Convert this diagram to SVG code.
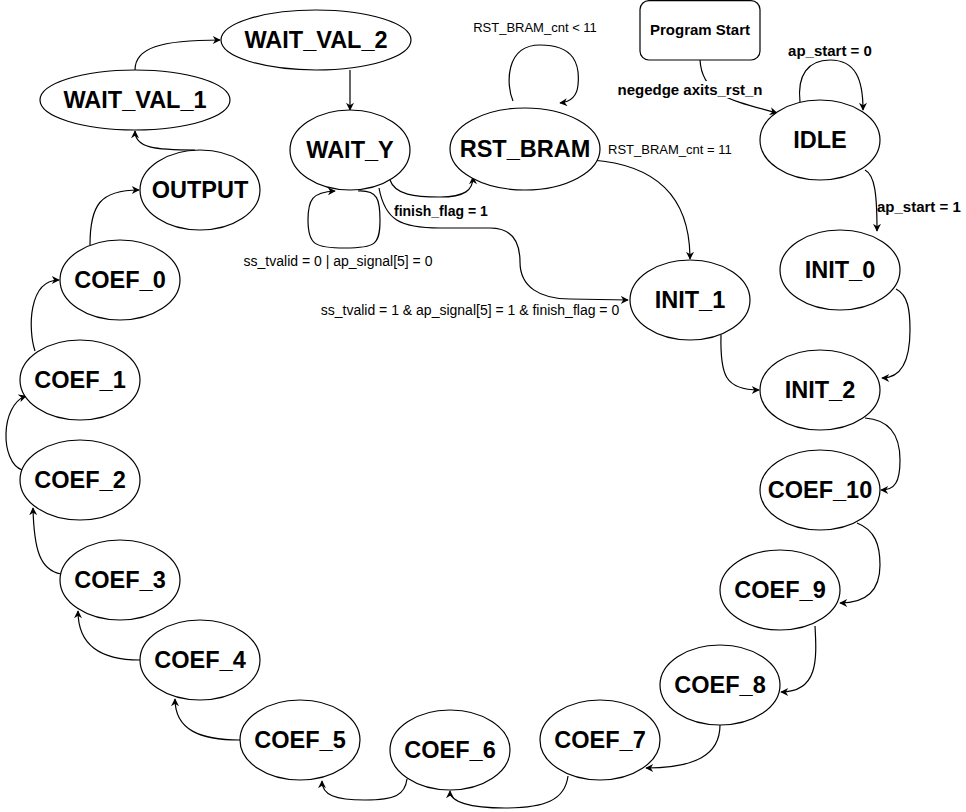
<svg xmlns="http://www.w3.org/2000/svg" width="966" height="812" viewBox="0 0 966 812">
<defs>
<marker id="arr" viewBox="0 0 10 10" refX="9" refY="5" markerWidth="9" markerHeight="8" markerUnits="userSpaceOnUse" orient="auto">
<path d="M0,0 L10,5 L0,10 L3,5 z" fill="#000"/>
</marker>
<style>
.n ellipse, .n rect { fill:#fff; stroke:#000; stroke-width:1.2; }
.n text { font-family:"Liberation Sans", Arial, sans-serif; font-weight:bold; font-size:23.5px; text-anchor:middle; fill:#000; }
.e path { fill:none; stroke:#000; stroke-width:1.2; marker-end:url(#arr); }
.l { font-family:"Liberation Sans", Arial, sans-serif; font-size:14px; fill:#000; }
.b { font-weight:bold; font-size:15px; }
.s { font-size:13px; }
</style>
</defs>
<rect width="966" height="812" fill="#fff"/>
<g id="connectors" class="e">
<path d="M135,70 C135,48 160,40 220,40"/>
<path d="M350,70 L350,110"/>
<path d="M195,150 C155,150 135,148 135,131"/>
<path d="M90,245 C90,205 100,190 139,190"/>
<path d="M35,351 C28,330 28,280 59,280"/>
<path d="M22,470 C0,462 0,405 26,396"/>
<path d="M61,574 C40,570 34,550 33,508"/>
<path d="M140,660 C100,660 78,645 78,611"/>
<path d="M240,740 C200,740 175,730 175,699"/>
<path d="M407,779 C405,795 395,800 365,800 C335,800 322,795 322,781"/>
<path d="M568,776 C565,800 545,808 505,808 C470,808 450,802 450,791"/>
<path d="M720,725 C720,755 695,768 646,768"/>
<path d="M815,626 C817,660 818,692 781,692"/>
<path d="M857,523 C875,530 880,545 880,565 C880,592 865,603 840,603"/>
<path d="M865,418 C893,420 900,440 900,460 C900,482 895,490 881,490"/>
<path d="M896,289 C908,295 910,310 910,330 C910,362 900,378 882,378"/>
<path d="M721,335 C720,375 725,390 759,390"/>
<path d="M865,170 C875,175 877,195 877,231"/>
<path d="M800,102 C797,75 808,60 830,60 C856,60 863,80 863,110"/>
<path d="M700,60 C702,95 730,100 777,113"/>
<path d="M513,101 C506,85 505,45 540,45 C575,45 580,65 578,85 C577,96 570,102 560,103"/>
<path d="M592,160 C660,165 690,200 690,259"/>
<path d="M390,180 C395,195 415,197 440,197 C465,197 473,190 473,177"/>
<path d="M358,191 C378,190 380,200 380,220 C380,245 375,248 345,248 C315,248 308,245 308,220 C308,200 312,192 335,191"/>
<path d="M379,188 C385,220 400,228 440,228 L490,228 C515,228 520,245 520,262 C520,287 540,299 570,299 L628,300"/>
</g>
<g id="labels">
<text class="l s" x="535" y="32" text-anchor="middle">RST_BRAM_cnt &lt; 11</text>
<text class="l s" x="608" y="154">RST_BRAM_cnt = 11</text>
<text class="l b" x="830" y="56" text-anchor="middle">ap_start = 0</text>
<rect x="616" y="81" width="150" height="17" fill="#fff"/>
<text class="l b" x="690" y="95" text-anchor="middle">negedge axits_rst_n</text>
<text class="l b" x="877" y="212">ap_start = 1</text>
<text class="l b" x="394" y="216" style="font-size:14px">finish_flag = 1</text>
<text class="l" x="338" y="266" text-anchor="middle">ss_tvalid = 0 | ap_signal[5] = 0</text>
<text class="l" x="470" y="315" text-anchor="middle">ss_tvalid = 1 &amp; ap_signal[5] = 1 &amp; finish_flag = 0</text>
</g>
<g id="program_start" class="n"><rect x="640" y="0.6" width="120" height="59.4" rx="9"/><text x="700" y="35" style="font-size:15px">Program Start</text></g>
<g id="wait_val_2" class="n"><ellipse cx="316" cy="40" rx="95" ry="30"/><text x="316" y="48">WAIT_VAL_2</text></g>
<g id="wait_val_1" class="n"><ellipse cx="135" cy="100" rx="95" ry="30"/><text x="135" y="108">WAIT_VAL_1</text></g>
<g id="wait_y" class="n"><ellipse cx="350" cy="150" rx="60" ry="40"/><text x="350" y="158">WAIT_Y</text></g>
<g id="rst_bram" class="n"><ellipse cx="525" cy="149" rx="75" ry="41"/><text x="525" y="157">RST_BRAM</text></g>
<g id="output" class="n"><ellipse cx="200" cy="190" rx="60" ry="40"/><text x="200" y="198">OUTPUT</text></g>
<g id="idle" class="n"><ellipse cx="820" cy="140" rx="60" ry="40"/><text x="820" y="148">IDLE</text></g>
<g id="init_0" class="n"><ellipse cx="840" cy="270" rx="60" ry="40"/><text x="840" y="278">INIT_0</text></g>
<g id="init_1" class="n"><ellipse cx="690" cy="300" rx="60" ry="40"/><text x="690" y="308">INIT_1</text></g>
<g id="init_2" class="n"><ellipse cx="820" cy="390" rx="60" ry="40"/><text x="820" y="398">INIT_2</text></g>
<g id="coef_10" class="n"><ellipse cx="820" cy="490" rx="60" ry="40"/><text x="820" y="498">COEF_10</text></g>
<g id="coef_9" class="n"><ellipse cx="780" cy="590" rx="60" ry="40"/><text x="780" y="598">COEF_9</text></g>
<g id="coef_8" class="n"><ellipse cx="720" cy="685" rx="60" ry="40"/><text x="720" y="693">COEF_8</text></g>
<g id="coef_7" class="n"><ellipse cx="600" cy="740" rx="60" ry="40"/><text x="600" y="748">COEF_7</text></g>
<g id="coef_6" class="n"><ellipse cx="450" cy="750" rx="60" ry="40"/><text x="450" y="758">COEF_6</text></g>
<g id="coef_5" class="n"><ellipse cx="300" cy="740" rx="60" ry="40"/><text x="300" y="748">COEF_5</text></g>
<g id="coef_4" class="n"><ellipse cx="200" cy="660" rx="60" ry="40"/><text x="200" y="668">COEF_4</text></g>
<g id="coef_3" class="n"><ellipse cx="120" cy="580" rx="60" ry="40"/><text x="120" y="588">COEF_3</text></g>
<g id="coef_2" class="n"><ellipse cx="80" cy="480" rx="60" ry="40"/><text x="80" y="488">COEF_2</text></g>
<g id="coef_1" class="n"><ellipse cx="80" cy="380" rx="60" ry="40"/><text x="80" y="388">COEF_1</text></g>
<g id="coef_0" class="n"><ellipse cx="120" cy="280" rx="60" ry="40"/><text x="120" y="288">COEF_0</text></g>
</svg>
